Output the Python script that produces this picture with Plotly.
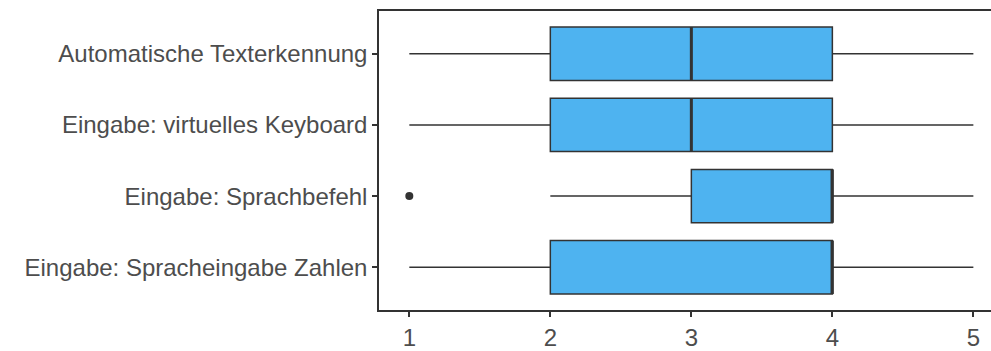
import plotly.graph_objects as go

# Survey items, listed top to bottom
categories = [
    "Automatische Texterkennung",
    "Eingabe: virtuelles Keyboard",
    "Eingabe: Sprachbefehl",
    "Eingabe: Spracheingabe Zahlen",
]
lower_whisker = [1, 1, 2, 1]
q1 = [2, 2, 3, 2]
median = [3, 3, 4, 4]
q3 = [4, 4, 4, 4]
upper_whisker = [5, 5, 5, 5]
outlier_item = ["Eingabe: Sprachbefehl"]
outlier_value = [1]
x_ticks = [1, 2, 3, 4, 5]

positions = list(range(1, len(categories) + 1))
pos_of = dict(zip(categories, positions))

LINE = "#333333"
FILL = "#4EB3F0"
TEXT = "#4D4D4D"
FONT = "Liberation Sans, Arial, sans-serif"
FSIZE = 24

fig = go.Figure()

fig.add_trace(go.Box(
    orientation="h",
    y=positions,
    q1=q1,
    median=median,
    q3=q3,
    lowerfence=lower_whisker,
    upperfence=upper_whisker,
    fillcolor=FILL,
    line=dict(color=LINE, width=1.5),
    whiskerwidth=0,
    boxpoints=False,
    showlegend=False,
    hoverinfo="skip",
))

# Thicker median bars
half = 0.375
mx, my = [], []
for p, m in zip(positions, median):
    mx += [m, m, None]
    my += [p - half, p + half, None]
fig.add_trace(go.Scatter(
    x=mx, y=my, mode="lines",
    line=dict(color=LINE, width=3),
    showlegend=False, hoverinfo="skip",
))

# Outliers
fig.add_trace(go.Scatter(
    x=outlier_value,
    y=[pos_of[c] for c in outlier_item],
    mode="markers",
    marker=dict(color=LINE, size=8),
    showlegend=False, hoverinfo="skip",
))

fig.update_layout(
    width=991, height=351,
    margin=dict(l=379, r=0, t=11, b=38),
    paper_bgcolor="white",
    plot_bgcolor="white",
    boxgap=0.25,
    boxgroupgap=0,
    font=dict(family=FONT, size=FSIZE, color=TEXT),
    xaxis=dict(
        range=[0.785, 5.125],
        tickvals=x_ticks,
        ticktext=[str(v) for v in x_ticks],
        showgrid=False, zeroline=False,
        showline=True, linecolor=LINE, linewidth=1.5, mirror=True,
        ticks="outside", ticklen=5, tickwidth=1.5, tickcolor=LINE,
        tickfont=dict(family=FONT, size=FSIZE, color=TEXT),
    ),
    yaxis=dict(
        range=[4.6, 0.4],
        tickvals=positions,
        ticktext=categories,
        showgrid=False, zeroline=False,
        showline=True, linecolor=LINE, linewidth=1.5, mirror=False,
        ticks="outside", ticklen=5, tickwidth=1.5, tickcolor=LINE,
        tickfont=dict(family=FONT, size=FSIZE, color=TEXT),
    ),
)

fig.write_html("out.html")
